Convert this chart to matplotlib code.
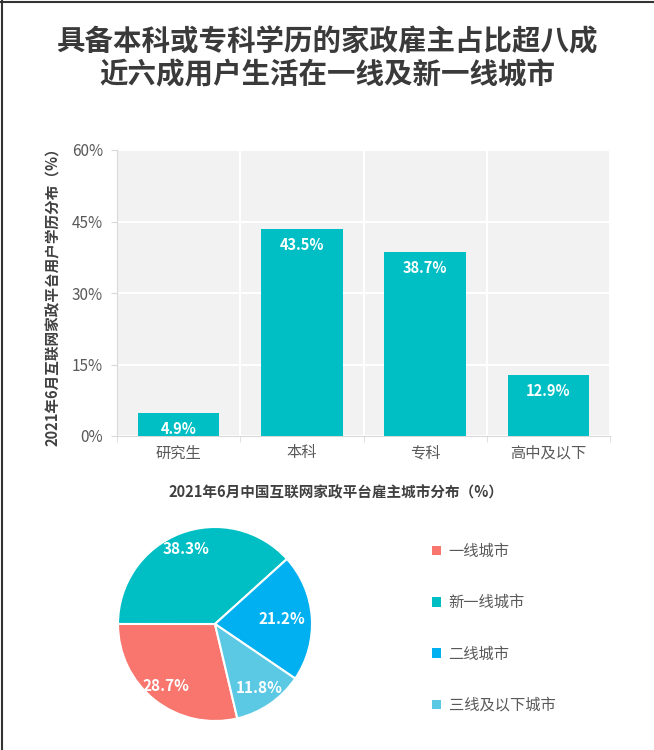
import numpy as np
import matplotlib
matplotlib.use("Agg")
import matplotlib.pyplot as plt
from matplotlib.lines import Line2D
from matplotlib.patches import Patch

plt.rcParams['font.family'] = ['Noto Sans CJK SC', 'DejaVu Sans']

# --- data ---
edu_labels = ["研究生", "本科", "专科", "高中及以下"]
edu_values = [4.9, 43.5, 38.7, 12.9]
y_ticks = [0, 15, 30, 45, 60]

city_labels = ["一线城市", "新一线城市", "二线城市", "三线及以下城市"]
city_values = [28.7, 38.3, 21.2, 11.8]

title = "具备本科或专科学历的家政雇主占比超八成\n近六成用户生活在一线及新一线城市"
bar_ylabel = "2021年6月互联网家政平台用户学历分布（%）"
pie_title = "2021年6月中国互联网家政平台雇主城市分布（%）"

teal = "#00BFC4"
city_colors = ["#F8766D", "#00BFC4", "#00B0F0", "#5BC9E4"]
grey_bg = "#F2F2F2"
text_grey = "#595959"

W, H = 654, 750
fig = plt.figure(figsize=(W / 100, H / 100), dpi=100)
fig.patch.set_facecolor("white")

def fx(px):
    return px / W

def fy(py):
    return 1 - py / H

# frame lines (left / top)
fig.add_artist(Line2D([fx(1.5), fx(1.5)], [0, 1], color="#333333", lw=1.5))
fig.add_artist(Line2D([0, 1], [fy(1.5), fy(1.5)], color="#333333", lw=1.5))

fig.text(0.5, fy(59), title, ha="center", va="center", fontsize=20.5,
         fontweight="bold", color="#3A3A3A", linespacing=1.2)

# --- bar chart ---
ax = fig.add_axes([fx(117), fy(436), fx(610) - fx(117), fy(150) - fy(436)])
ax.set_facecolor(grey_bg)
x = np.arange(len(edu_labels))
bars = ax.bar(x, edu_values, width=0.66, color=teal, zorder=3)
ax.set_xlim(-0.5, len(edu_labels) - 0.5)
ax.set_ylim(0, 60)
ax.set_yticks(y_ticks)
ax.set_yticklabels([f"{v}%" for v in y_ticks], fontsize=11, color=text_grey)
ax.set_xticks(x)
ax.set_xticklabels(edu_labels, fontsize=11, color=text_grey)
ax.set_xticks(np.arange(len(edu_labels) + 1) - 0.5, minor=True)
ax.tick_params(axis="x", which="major", length=0, pad=6)
ax.tick_params(axis="x", which="minor", length=4, color="#D9D9D9")
ax.tick_params(axis="y", length=4, color="#D9D9D9", pad=6)
ax.grid(axis="y", color="white", lw=1.5, zorder=1)
ax.grid(axis="x", which="minor", color="white", lw=1.5, zorder=1)
ax.grid(axis="x", which="major", visible=False)
for s in ["top", "right"]:
    ax.spines[s].set_visible(False)
for s in ["left", "bottom"]:
    ax.spines[s].set_color("#D9D9D9")
for b, v in zip(bars, edu_values):
    ax.annotate(f"{v}%", (b.get_x() + b.get_width() / 2, v), xytext=(0, -12),
                textcoords="offset points", ha="center", va="center",
                color="white", fontsize=10.5, fontweight="bold", zorder=4)
ax.set_ylabel(bar_ylabel, fontsize=10.5, fontweight="bold", color="#404040",
              labelpad=8)

# --- pie chart ---
fig.text(fx(336), fy(492), pie_title, ha="center", va="center", fontsize=10.5,
         fontweight="bold", color="#404040")

r = 97
pad = 1.08
pax = fig.add_axes([fx(215 - r * pad), fy(624 + r * pad),
                    2 * r * pad / W, 2 * r * pad / H])
wedges, _ = pax.pie(city_values, colors=city_colors, startangle=283.3,
                    counterclock=False, radius=1,
                    wedgeprops=dict(edgecolor="white", linewidth=1.5))
pax.set_xlim(-pad, pad)
pax.set_ylim(-pad, pad)
pax.set_aspect("equal")
pax.axis("off")

label_dist = [0.81, 0.83, 0.69, 0.8]
for w, v, d in zip(wedges, city_values, label_dist):
    ang = np.deg2rad((w.theta1 + w.theta2) / 2)
    pax.text(d * np.cos(ang), d * np.sin(ang), f"{v}%", ha="center",
             va="center", color="white", fontsize=11, fontweight="bold")

handles = [Patch(facecolor=c, edgecolor="none") for c in city_colors]
fig.legend(handles, city_labels, loc="upper left",
           bbox_to_anchor=(fx(418), fy(529)), frameon=False, fontsize=11,
           labelcolor=text_grey, handlelength=0.6, handleheight=0.6,
           handletextpad=0.5, labelspacing=2.25)

fig.savefig("out.png", dpi=100)
